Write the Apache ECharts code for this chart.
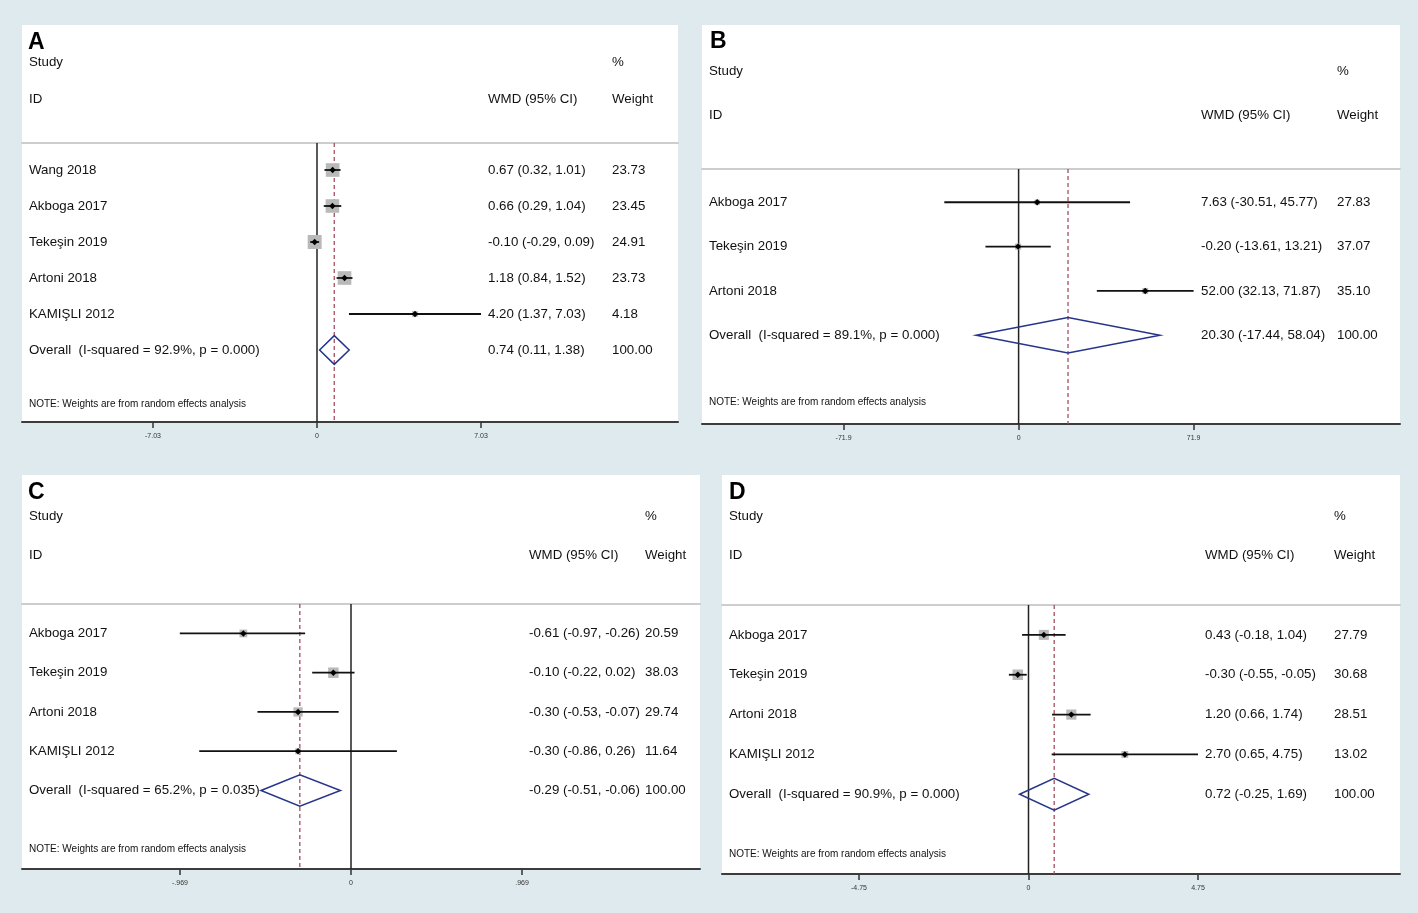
<!DOCTYPE html>
<html>
<head>
<meta charset="utf-8">
<title>Forest plots</title>
<script src="https://cdn.jsdelivr.net/npm/echarts@6.0.0/dist/echarts.min.js"></script>
<style>
  html, body { margin: 0; padding: 0; background: #dfeaee; }
  #forestChart { width: 1418px; height: 913px; }
</style>
</head>
<body>
<div id="forestChart"></div>
<script>
// panel A
const studiesA = ['Wang 2018', 'Akboga 2017', 'Tekeşin 2019', 'Artoni 2018', 'KAMIŞLI 2012'];
const wmdA = [0.67, 0.66, -0.10, 1.18, 4.20];
const lowerA = [0.32, 0.29, -0.29, 0.84, 1.37];
const upperA = [1.01, 1.04, 0.09, 1.52, 7.03];
const weightA = [23.73, 23.45, 24.91, 23.73, 4.18];
const overallA = [0.74, 0.11, 1.38];
const hetA = ['92.9%', '0.000'];
const ticksA = [-7.03, 0, 7.03];
const tickLabelsA = ['-7.03', '0', '7.03'];

// panel B
const studiesB = ['Akboga 2017', 'Tekeşin 2019', 'Artoni 2018'];
const wmdB = [7.63, -0.20, 52.00];
const lowerB = [-30.51, -13.61, 32.13];
const upperB = [45.77, 13.21, 71.87];
const weightB = [27.83, 37.07, 35.10];
const overallB = [20.30, -17.44, 58.04];
const hetB = ['89.1%', '0.000'];
const ticksB = [-71.87, 0, 71.87];
const tickLabelsB = ['-71.9', '0', '71.9'];

// panel C
const studiesC = ['Akboga 2017', 'Tekeşin 2019', 'Artoni 2018', 'KAMIŞLI 2012'];
const wmdC = [-0.61, -0.10, -0.30, -0.30];
const lowerC = [-0.97, -0.22, -0.53, -0.86];
const upperC = [-0.26, 0.02, -0.07, 0.26];
const weightC = [20.59, 38.03, 29.74, 11.64];
const overallC = [-0.29, -0.51, -0.06];
const hetC = ['65.2%', '0.035'];
const ticksC = [-0.969, 0, 0.969];
const tickLabelsC = ['-.969', '0', '.969'];

// panel D
const studiesD = ['Akboga 2017', 'Tekeşin 2019', 'Artoni 2018', 'KAMIŞLI 2012'];
const wmdD = [0.43, -0.30, 1.20, 2.70];
const lowerD = [-0.18, -0.55, 0.66, 0.65];
const upperD = [1.04, -0.05, 1.74, 4.75];
const weightD = [27.79, 30.68, 28.51, 13.02];
const overallD = [0.72, -0.25, 1.69];
const hetD = ['90.9%', '0.000'];
const ticksD = [-4.75, 0, 4.75];
const tickLabelsD = ['-4.75', '0', '4.75'];

// layout (pixels)
const layoutA = { box: [22, 25, 656, 397], sepY: 143, zeroPx: 317, tickPx: 481, nameX: 29, ciX: 488, wtX: 612, letterX: 28, letterY: 43, studyY: 62, idY: 99, boxScale: 2.8 };
const layoutB = { box: [702, 25, 698, 399], sepY: 169, zeroPx: 1018.6, tickPx: 1193.6, nameX: 709, ciX: 1201, wtX: 1337, letterX: 710, letterY: 42, studyY: 71, idY: 115, boxScale: 1.0 };
const layoutC = { box: [22, 475, 678, 394], sepY: 604, zeroPx: 351, tickPx: 522, nameX: 29, ciX: 529, wtX: 645, letterX: 28, letterY: 493, studyY: 516, idY: 555, boxScale: 1.7 };
const layoutD = { box: [722, 475, 678, 399], sepY: 605, zeroPx: 1028.5, tickPx: 1198, nameX: 729, ciX: 1205, wtX: 1334, letterX: 729, letterY: 493, studyY: 516, idY: 555, boxScale: 1.9 };

const panels = [
    { key: 'A', studies: studiesA, wmd: wmdA, lower: lowerA, upper: upperA, weight: weightA, overall: overallA, het: hetA, ticks: ticksA, tickLabels: tickLabelsA, layout: layoutA },
    { key: 'B', studies: studiesB, wmd: wmdB, lower: lowerB, upper: upperB, weight: weightB, overall: overallB, het: hetB, ticks: ticksB, tickLabels: tickLabelsB, layout: layoutB },
    { key: 'C', studies: studiesC, wmd: wmdC, lower: lowerC, upper: upperC, weight: weightC, overall: overallC, het: hetC, ticks: ticksC, tickLabels: tickLabelsC, layout: layoutC },
    { key: 'D', studies: studiesD, wmd: wmdD, lower: lowerD, upper: upperD, weight: weightD, overall: overallD, het: hetD, ticks: ticksD, tickLabels: tickLabelsD, layout: layoutD }
];

const FONT = '"Liberation Sans", Arial, Helvetica, sans-serif';
const TEXT_COLOR = '#111111';
const DIAMOND_COLOR = '#26358a';
const BOX_COLOR = '#b9b9b9';
const REF_COLOR = '#a34d5f';
const Y_MIN = -0.75;

function textEl(text, x, y, size, extra) {
    return Object.assign({
        type: 'text',
        style: {
            text: text, x: x, y: y,
            font: size + 'px ' + FONT,
            fill: TEXT_COLOR,
            align: 'left', verticalAlign: 'middle',
            textAlign: 'left', textVerticalAlign: 'middle'
        }
    }, extra || {});
}

function fmt(v) {
    return v.toFixed(2);
}

function makeRender(p) {
    const n = p.studies.length;
    const L = p.layout;
    return function (params, api) {
        const i = params.dataIndex;
        const isOverall = i === n;
        const est = isOverall ? p.overall[0] : p.wmd[i];
        const lo = isOverall ? p.overall[1] : p.lower[i];
        const hi = isOverall ? p.overall[2] : p.upper[i];
        const w = isOverall ? 100 : p.weight[i];

        const c = api.coord([est, i]);
        const xe = c[0], y = c[1];
        const xl = api.coord([lo, i])[0];
        const xh = api.coord([hi, i])[0];
        const children = [];

        if (isOverall) {
            const h = Math.abs(api.size([0, 0.4])[1]);
            children.push({
                type: 'polygon',
                shape: { points: [[xl, y], [xe, y - h], [xh, y], [xe, y + h]] },
                style: { fill: 'none', stroke: DIAMOND_COLOR, lineWidth: 1.5 }
            });
        } else {
            const s = L.boxScale * Math.sqrt(w);
            children.push({
                type: 'rect',
                shape: { x: xe - s / 2, y: y - s / 2, width: s, height: s },
                style: { fill: BOX_COLOR }
            });
            children.push({
                type: 'line',
                shape: { x1: xl, y1: y, x2: xh, y2: y },
                style: { stroke: '#111', lineWidth: 1.8 }
            });
            children.push({
                type: 'polygon',
                shape: { points: [[xe - 3.2, y], [xe, y - 3.2], [xe + 3.2, y], [xe, y + 3.2]] },
                style: { fill: '#000' }
            });
        }

        const label = isOverall
            ? 'Overall  (I-squared = ' + p.het[0] + ', p = ' + p.het[1] + ')'
            : p.studies[i];
        children.push(textEl(label, L.nameX, y, 13.3));
        children.push(textEl(fmt(est) + ' (' + fmt(lo) + ', ' + fmt(hi) + ')', L.ciX, y, 13.3));
        children.push(textEl(w.toFixed(2), L.wtX, y, 13.3));

        return { type: 'group', children: children };
    };
}

const grids = [];
const xAxes = [];
const yAxes = [];
const series = [];
const graphics = [];

panels.forEach(function (p, k) {
    const L = p.layout;
    const n = p.studies.length;
    const yMax = n + 2;
    const bx = L.box[0], by = L.box[1], bw = L.box[2], bh = L.box[3];
    const bottom = by + bh;
    const scale = (L.tickPx - L.zeroPx) / p.ticks[2];
    const xMin = (bx - L.zeroPx) / scale;
    const xMax = (bx + bw - L.zeroPx) / scale;

    grids.push({ left: bx, top: L.sepY, width: bw, height: bottom - L.sepY, containLabel: false });

    // bottom axis with ticks
    xAxes.push({
        type: 'value', gridIndex: k, position: 'bottom', min: xMin, max: xMax,
        axisLine: { show: true, onZero: false, lineStyle: { color: '#3c3c3c', width: 2 } },
        axisTick: { show: true, customValues: p.ticks, length: 6, lineStyle: { color: '#333', width: 1.5 } },
        axisLabel: {
            show: true, customValues: p.ticks, margin: 11, fontSize: 7, color: '#333', fontFamily: FONT,
            formatter: function (v) {
                const idx = p.ticks.findIndex(function (t) { return Math.abs(t - v) < 1e-6; });
                return idx >= 0 ? p.tickLabels[idx] : '';
            }
        },
        splitLine: { show: false }
    });
    // header separator line
    xAxes.push({
        type: 'value', gridIndex: k, position: 'top', min: xMin, max: xMax,
        axisLine: { show: true, onZero: false, lineStyle: { color: '#cdcdcd', width: 2 } },
        axisTick: { show: false }, axisLabel: { show: false }, splitLine: { show: false }
    });
    yAxes.push({ type: 'value', gridIndex: k, inverse: true, min: Y_MIN, max: yMax, show: false });

    const rows = p.studies.map(function (s, i) { return [p.wmd[i], i]; }).concat([[p.overall[0], n]]);

    series.push({
        type: 'line', xAxisIndex: k * 2, yAxisIndex: k, symbol: 'none', z: 1, silent: true,
        lineStyle: { color: '#222', width: 1.5 },
        data: [[0, Y_MIN], [0, yMax]]
    });
    series.push({
        type: 'line', xAxisIndex: k * 2, yAxisIndex: k, symbol: 'none', z: 1, silent: true,
        lineStyle: { color: REF_COLOR, width: 1.3, type: [4, 3] },
        data: [[p.overall[0], Y_MIN], [p.overall[0], yMax]]
    });
    series.push({
        type: 'custom', xAxisIndex: k * 2, yAxisIndex: k, z: 3, silent: true,
        renderItem: makeRender(p),
        data: rows
    });

    const spacing = (bottom - L.sepY) / (yMax - Y_MIN);
    const noteY = L.sepY + (n + 1.5 - Y_MIN) * spacing;

    graphics.push({ type: 'rect', z: -10, shape: { x: bx, y: by, width: bw, height: bh }, style: { fill: '#ffffff' } });
    const letter = textEl(p.key, L.letterX, L.letterY, 23);
    letter.style.font = 'bold 23px ' + FONT;
    letter.style.fill = '#000';
    graphics.push(letter);
    graphics.push(textEl('Study', L.nameX, L.studyY, 13.3));
    graphics.push(textEl('%', L.wtX, L.studyY, 13.3));
    graphics.push(textEl('ID', L.nameX, L.idY, 13.3));
    graphics.push(textEl('WMD (95% CI)', L.ciX, L.idY, 13.3));
    graphics.push(textEl('Weight', L.wtX, L.idY, 13.3));
    graphics.push(textEl('NOTE: Weights are from random effects analysis', L.nameX, noteY, 10));
});

const forestChart = echarts.init(document.getElementById('forestChart'));

const option = {
    backgroundColor: '#dfeaee',
    animation: false,
    grid: grids,
    xAxis: xAxes,
    yAxis: yAxes,
    series: series,
    graphic: { elements: graphics }
};

forestChart.setOption(option);

window.addEventListener('resize', function () {
    forestChart.resize();
});
</script>
</body>
</html>
